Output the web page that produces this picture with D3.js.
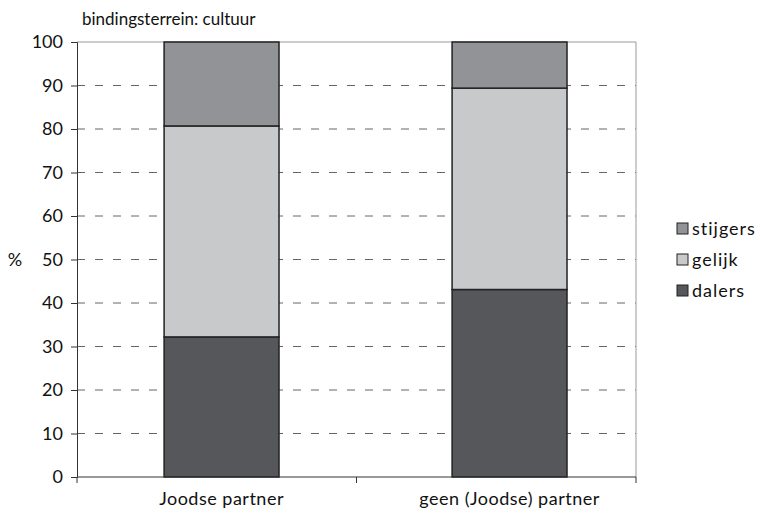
<!DOCTYPE html>
<html><head><meta charset="utf-8">
<script src="https://cdn.jsdelivr.net/npm/d3@7"></script>
<style>body{margin:0;background:#fff;} text{font-family:Lato, "Open Sans", sans-serif;fill:#111;}</style>
</head><body>
<svg id="c" width="760" height="523"></svg>
<script>
const categories = ["Joodse partner", "geen (Joodse) partner"];
const seriesNames = ["dalers", "gelijk", "stijgers"];
const dalers = [32.2, 43.1];
const gelijk = [48.5, 46.3];
const stijgers = [19.3, 10.6];
const yTicks = [0,10,20,30,40,50,60,70,80,90,100];
const colors = {dalers:"#55575a", gelijk:"#c8c9cb", stijgers:"#929396"};

const svg = d3.select("#c");
const m = {l:77, r:636, t:42, b:477};
const x = d3.scaleBand().domain(categories).range([m.l, m.r])
  .paddingInner(0.601).paddingOuter(0.271).align(0.558);
const y = d3.scaleLinear().domain([0,100]).range([m.b, m.t]);

// grid
svg.append("g").selectAll("line").data(yTicks.filter(d=>d>0&&d<100)).join("line")
  .attr("x1", m.l).attr("x2", m.r).attr("y1", d=>y(d)).attr("y2", d=>y(d))
  .attr("stroke", "#666").attr("stroke-width", 1).attr("stroke-dasharray", "8,10");
// frame top/right
svg.append("line").attr("x1", m.l).attr("x2", m.r).attr("y1", y(100)).attr("y2", y(100)).attr("stroke","#999");
svg.append("line").attr("x1", m.r).attr("x2", m.r).attr("y1", y(100)).attr("y2", y(0)).attr("stroke","#999");

// bars
const data = categories.map((c,i)=>({cat:c, dalers:dalers[i], gelijk:gelijk[i], stijgers:stijgers[i]}));
const stack = d3.stack().keys(seriesNames)(data);
svg.append("g").selectAll("g").data(stack).join("g").attr("fill", s=>colors[s.key])
  .selectAll("rect").data(s=>s).join("rect")
  .attr("x", d=>x(d.data.cat)).attr("width", x.bandwidth())
  .attr("y", d=>y(d[1])).attr("height", d=>y(d[0])-y(d[1]))
  .attr("stroke", "#222").attr("stroke-width", 1.5);

// y axis
const ya = svg.append("g").attr("transform", `translate(${m.l},0)`)
  .call(d3.axisLeft(y).tickValues(yTicks).tickSize(6).tickPadding(8));
ya.select(".domain").attr("stroke","#333");
ya.selectAll(".tick line").attr("stroke","#333");
ya.selectAll("text").attr("font-size", 18).attr("font-family","Lato, sans-serif").attr("fill","#111");

// x axis
const xa = svg.append("g").attr("transform", `translate(0,${m.b})`);
xa.append("line").attr("x1", m.l).attr("x2", m.r).attr("stroke","#333");
const bounds = [m.l, (m.l+m.r)/2, m.r];
xa.selectAll("line.t").data(bounds).join("line").attr("class","t")
  .attr("x1", d=>d).attr("x2", d=>d).attr("y1",0).attr("y2",6).attr("stroke","#333");
xa.selectAll("text").data(categories).join("text")
  .attr("x", d=>x(d)+x.bandwidth()/2).attr("y", 28).attr("text-anchor","middle")
  .attr("font-size", 18).attr("letter-spacing", 0.5).text(d=>d);

// labels
svg.append("text").attr("x", 15).attr("y", 266).attr("font-size", 18).attr("text-anchor","middle").text("%");
svg.append("text").attr("x", 82).attr("y", 25).attr("font-size", 17).text("bindingsterrein: cultuur");

// legend
const leg = svg.append("g");
const legItems = seriesNames.slice().reverse();
legItems.forEach((k,i)=>{
  const yy = 229 + i*31;
  leg.append("rect").attr("x", 677).attr("y", yy-6).attr("width", 11).attr("height", 11)
    .attr("fill", colors[k]).attr("stroke","#222").attr("stroke-width",1);
  leg.append("text").attr("x", 692).attr("y", yy+6).attr("font-size", 18).attr("letter-spacing", 1).text(k);
});
</script>
</body></html>
